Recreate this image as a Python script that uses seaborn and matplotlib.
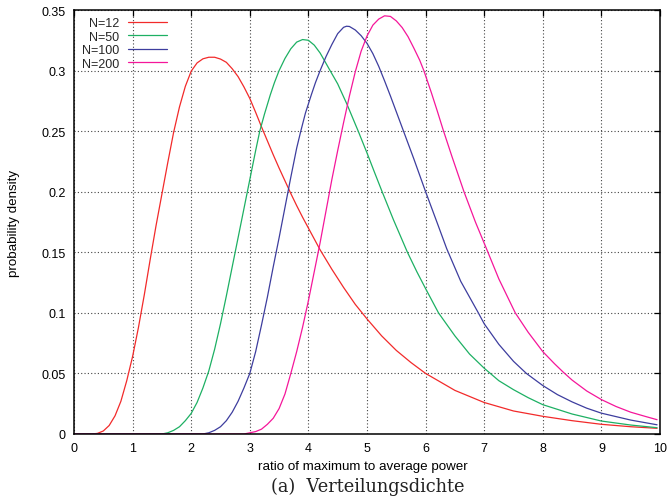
import numpy as np
import pandas as pd
import matplotlib
matplotlib.use("Agg")
import matplotlib.pyplot as plt
import seaborn as sns

# ---- data ----
labels = ["N=12", "N=50", "N=100", "N=200"]

x_n12 = [0, 0.3, 0.4, 0.5, 0.6, 0.7, 0.8, 0.9, 1.0, 1.1, 1.2, 1.3, 1.4, 1.5, 1.6, 1.7, 1.8, 1.9,
         2.0, 2.1, 2.2, 2.3, 2.4, 2.5, 2.6, 2.7, 2.8, 2.9, 3.0, 3.1, 3.2, 3.3, 3.4, 3.5, 3.6,
         3.7, 3.8, 3.9, 4.0, 4.2, 4.4, 4.6, 4.8, 5.0, 5.25, 5.5, 5.75, 6.0, 6.25, 6.5, 6.75,
         7.0, 7.5, 8.0, 8.5, 9.0, 9.5, 9.95]
y_n12 = [0, 0, 0.0005, 0.0025, 0.007, 0.015, 0.027, 0.044, 0.064, 0.088, 0.115, 0.144, 0.172, 0.198,
         0.224, 0.249, 0.27, 0.287, 0.2995, 0.3063, 0.3097, 0.3110, 0.3110, 0.3095, 0.3068, 0.3015, 0.295,
         0.2865, 0.277, 0.2655, 0.2535, 0.242, 0.2305, 0.2195, 0.209, 0.1985, 0.1885, 0.179, 0.17, 0.152,
         0.136, 0.121, 0.107, 0.095, 0.081, 0.069, 0.059, 0.05, 0.043, 0.036, 0.031, 0.026, 0.019, 0.0146,
         0.011, 0.008, 0.006, 0.0047]

x_n50 = [0, 1.5, 1.6, 1.7, 1.8, 1.9, 2.0, 2.1, 2.2, 2.3, 2.4, 2.5, 2.6, 2.7, 2.8, 2.9, 3.0, 3.1,
         3.17, 3.25, 3.35, 3.42, 3.5, 3.6, 3.7, 3.8, 3.9, 4.0, 4.1, 4.2, 4.3, 4.37, 4.5, 4.66,
         4.85, 5.0, 5.12, 5.25, 5.45, 5.69, 5.85, 6.0, 6.22, 6.5, 6.75, 7.0, 7.25, 7.5, 7.75,
         8.0, 8.5, 9.0, 9.5, 9.95]
y_n50 = [0, 0, 0.001, 0.003, 0.006, 0.011, 0.017, 0.026, 0.038, 0.052, 0.07, 0.091, 0.114, 0.138, 0.162,
         0.186, 0.21, 0.234, 0.25, 0.264, 0.28, 0.29, 0.3, 0.31, 0.318, 0.3235, 0.3256, 0.325, 0.321,
         0.3145, 0.306, 0.3, 0.289, 0.272, 0.25, 0.232, 0.217, 0.201, 0.177, 0.15, 0.134, 0.12, 0.1,
         0.081, 0.066, 0.0543, 0.044, 0.0366, 0.03, 0.0242, 0.0165, 0.0107, 0.0074, 0.0052]

x_n100 = [0, 2.2, 2.3, 2.4, 2.5, 2.6, 2.7, 2.8, 2.9, 3.0, 3.1, 3.2, 3.3, 3.4, 3.5, 3.6, 3.7, 3.8,
          3.87, 3.95, 4.05, 4.12, 4.2, 4.3, 4.4, 4.5, 4.6, 4.65, 4.7, 4.8, 4.9, 5.0, 5.1, 5.2,
          5.3, 5.4, 5.6, 5.8, 6.0, 6.2, 6.36, 6.6, 6.75, 6.9, 7.0, 7.25, 7.5, 7.72, 8.0, 8.25,
          8.5, 8.75, 9.0, 9.5, 9.95]
y_n100 = [0, 0, 0.001, 0.003, 0.006, 0.011, 0.018, 0.027, 0.038, 0.05, 0.068, 0.09, 0.113, 0.138, 0.162,
          0.187, 0.212, 0.236, 0.25, 0.265, 0.28, 0.29, 0.3, 0.3115, 0.3215, 0.3305, 0.3357, 0.3366, 0.3364,
          0.3335, 0.3288, 0.3225, 0.314, 0.3035, 0.2915, 0.279, 0.253, 0.227, 0.2, 0.174, 0.153, 0.126,
          0.113, 0.1, 0.091, 0.074, 0.06, 0.05, 0.04, 0.0325, 0.0265, 0.0213, 0.0172, 0.0115, 0.0076]

x_n200 = [0, 2.9, 3.0, 3.1, 3.2, 3.3, 3.4, 3.5, 3.6, 3.7, 3.8, 3.9, 4.0, 4.1, 4.2, 4.3, 4.4, 4.5,
          4.6, 4.7, 4.8, 4.9, 5.0, 5.1, 5.2, 5.3, 5.4, 5.5, 5.6, 5.7, 5.8, 5.9, 5.97, 6.1, 6.2,
          6.3, 6.45, 6.655, 6.85, 7.03, 7.25, 7.53, 7.75, 8.0, 8.2, 8.35, 8.5, 8.75, 9.0, 9.25,
          9.5, 9.75, 9.95]
y_n200 = [0, 0, 0.001, 0.002, 0.004, 0.008, 0.013, 0.021, 0.033, 0.05, 0.068, 0.088, 0.11, 0.134, 0.158,
          0.184, 0.21, 0.234, 0.257, 0.279, 0.299, 0.316, 0.3285, 0.3375, 0.3425, 0.3452, 0.3447, 0.341,
          0.3355, 0.328, 0.3185, 0.3085, 0.3, 0.2815, 0.2665, 0.251, 0.229, 0.2, 0.175, 0.154, 0.128, 0.1,
          0.084, 0.068, 0.058, 0.051, 0.0445, 0.0355, 0.0284, 0.0227, 0.018, 0.0145, 0.0118]

colors = ["#f22a2a", "#1db063", "#3d3d9e", "#f5169a"]

x_ticks = [0, 1, 2, 3, 4, 5, 6, 7, 8, 9, 10]
y_ticks = [0, 0.05, 0.1, 0.15, 0.2, 0.25, 0.3, 0.35]
y_tick_labels = ["0", "0.05", "0.1", "0.15", "0.2", "0.25", "0.3", "0.35"]

xlabel = "ratio of maximum to average power"
ylabel = "probability density"
caption = "(a)  Verteilungsdichte"

# ---- build long table ----
frames = []
for lab, xs, ys in zip(labels, [x_n12, x_n50, x_n100, x_n200], [y_n12, y_n50, y_n100, y_n200]):
    frames.append(pd.DataFrame({"x": xs, "density": ys, "series": lab}))
df = pd.concat(frames, ignore_index=True)

sns.set_theme(style="white")
plt.rcParams["font.family"] = ["Liberation Sans", "DejaVu Sans"]

fig = plt.figure(figsize=(6.72, 5.02), dpi=100)
ax = fig.add_axes([74 / 672, 1 - 435 / 502, 586 / 672, 424 / 502])

sns.lineplot(data=df, x="x", y="density", hue="series", hue_order=labels,
             palette=colors, estimator=None, sort=False, linewidth=0.9, ax=ax)

ax.set_xlim(0, 10)
ax.set_ylim(0, 0.35)
ax.set_xticks(x_ticks)
ax.set_xticklabels([str(t) for t in x_ticks])
ax.set_yticks(y_ticks)
ax.set_yticklabels(y_tick_labels)

ax.grid(True, color="#444444", linestyle=(0, (1, 2)), linewidth=0.8)
for sp in ax.spines.values():
    sp.set_visible(True)
    sp.set_color("black")
    sp.set_linewidth(1.1)
ax.tick_params(direction="in", length=4, width=0.9, top=True, right=True,
               labelsize=9, colors="black", pad=6)

ax.set_xlabel(xlabel, fontsize=9.6, color="black")
ax.set_ylabel(ylabel, fontsize=9.6, color="black")
ax.xaxis.set_label_coords(0.493, -0.062)
ax.yaxis.set_label_coords(-0.092, 0.5)

handles, labs = ax.get_legend_handles_labels()
leg = ax.legend(handles, labs, loc="upper left", bbox_to_anchor=(0.0137, 0.983),
                frameon=False, markerfirst=False, fontsize=9, handlelength=3.1,
                handletextpad=0.7, labelspacing=0.12, borderpad=0, borderaxespad=0)
for line in leg.get_lines():
    line.set_linewidth(0.9)

fig.text(368 / 672, 1 - 487 / 502, caption, ha="center", va="center",
         fontsize=12.8, family=["DejaVu Serif", "Liberation Serif"], color="#222222")

fig.savefig("out.png", dpi=100)
